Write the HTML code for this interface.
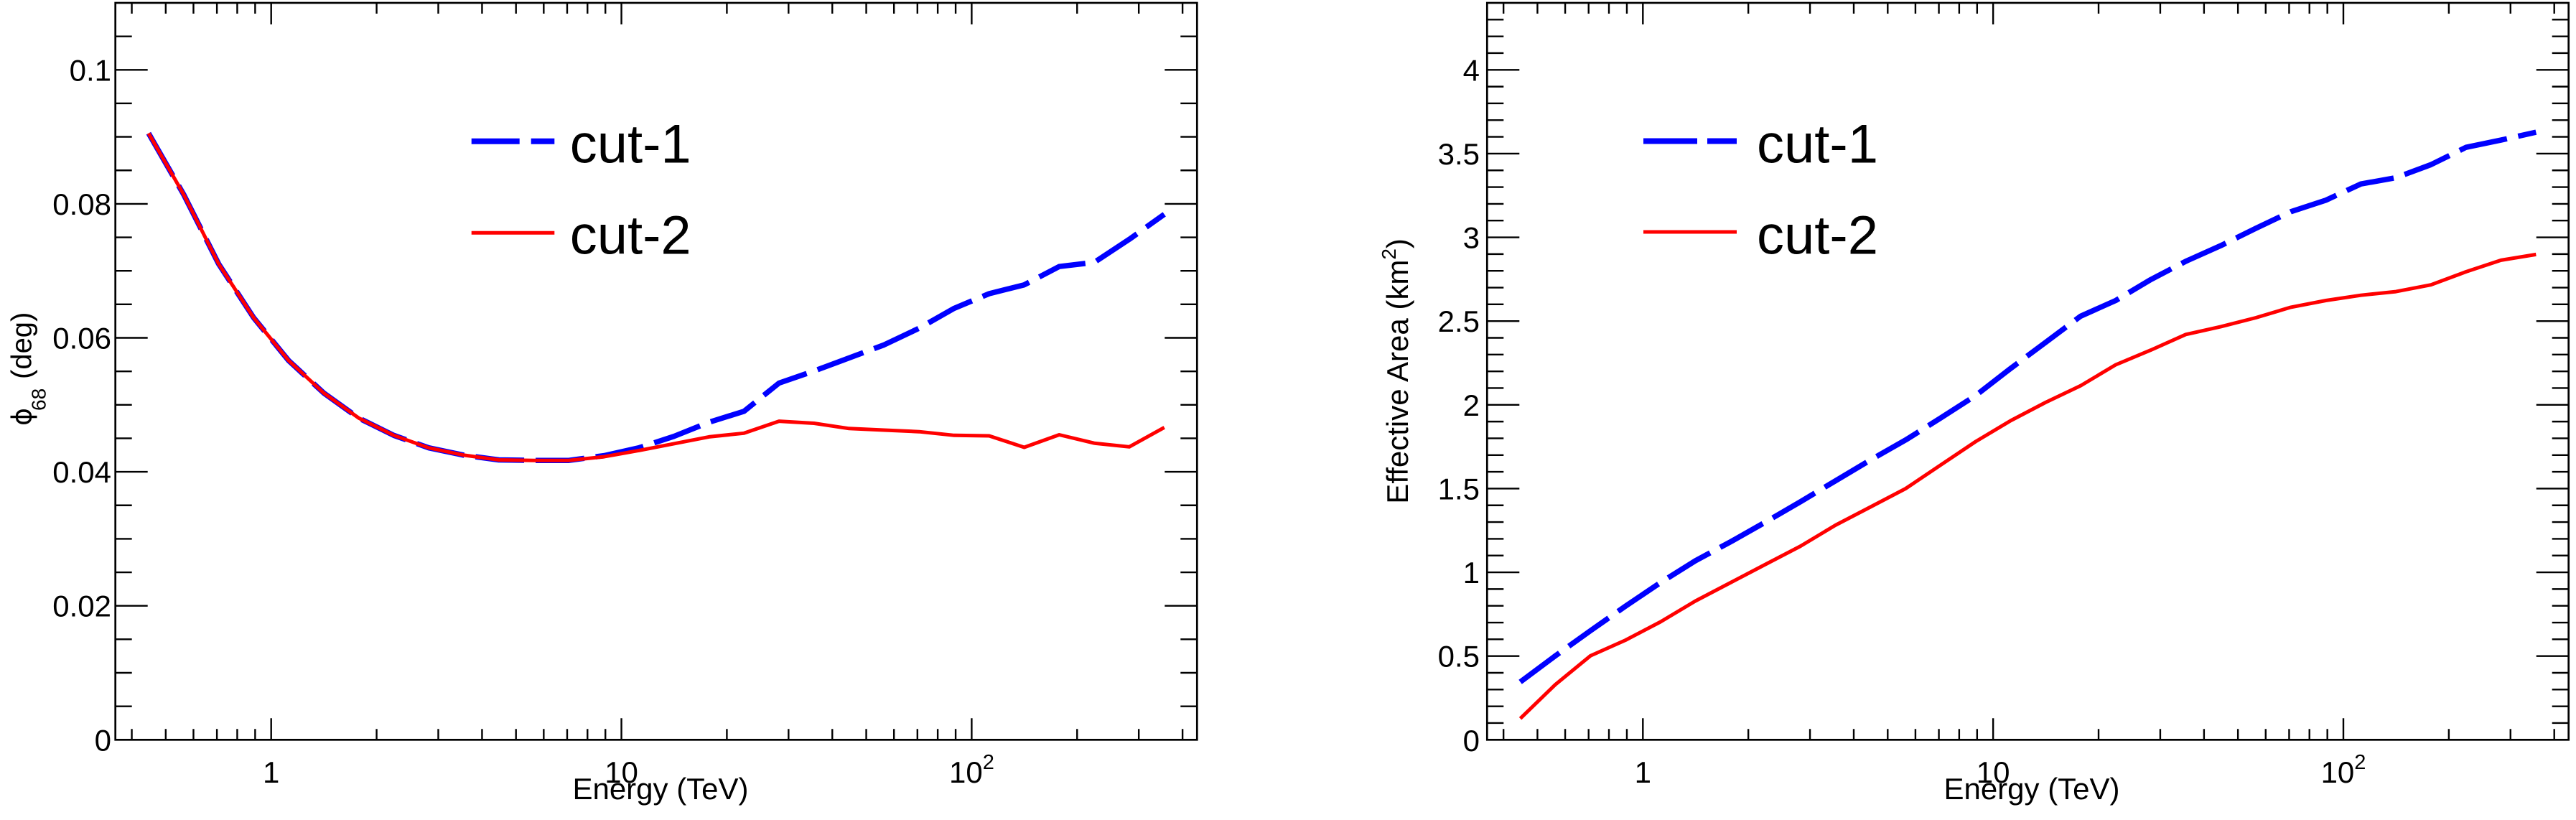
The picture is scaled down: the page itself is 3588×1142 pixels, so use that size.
<!DOCTYPE html>
<html>
<head>
<meta charset="utf-8">
<style>
html,body{margin:0;padding:0;background:#fff;}
svg{display:block;}
text{font-family:"Liberation Sans",Arial,Helvetica,sans-serif;fill:#000;}
</style>
</head>
<body>
<svg width="3588" height="1142" viewBox="0 0 3588 1142" xmlns="http://www.w3.org/2000/svg">
<rect x="0" y="0" width="3588" height="1142" fill="#fff"/>
<defs>
<path id="xb" fill="none" stroke="#000" stroke-width="2.4" d="M183.56 1030.3v-15M230.84 1030.3v-15M269.47 1030.3v-15M302.13 1030.3v-15M330.42 1030.3v-15M355.38 1030.3v-15M377.7 1030.3v-30M524.56 1030.3v-15M610.47 1030.3v-15M671.42 1030.3v-15M718.7 1030.3v-15M757.33 1030.3v-15M789.98 1030.3v-15M818.27 1030.3v-15M843.22 1030.3v-15M865.55 1030.3v-30M1012.41 1030.3v-15M1098.32 1030.3v-15M1159.27 1030.3v-15M1206.55 1030.3v-15M1245.18 1030.3v-15M1277.83 1030.3v-15M1306.12 1030.3v-15M1331.07 1030.3v-15M1353.4 1030.3v-30M1500.26 1030.3v-15M1586.17 1030.3v-15M1647.12 1030.3v-15"/>
<path id="yl" fill="none" stroke="#000" stroke-width="2.4" d="M160.7 983.65h23M160.7 937h23M160.7 890.35h23M160.7 843.7h45M160.7 797.05h23M160.7 750.4h23M160.7 703.75h23M160.7 657.1h45M160.7 610.45h23M160.7 563.8h23M160.7 517.15h23M160.7 470.5h45M160.7 423.85h23M160.7 377.2h23M160.7 330.55h23M160.7 283.9h45M160.7 237.25h23M160.7 190.6h23M160.7 143.95h23M160.7 97.3h45M160.7 50.65h23"/>
<path id="yr" fill="none" stroke="#000" stroke-width="2.4" d="M2071.3 1006.98h23M2071.3 983.65h23M2071.3 960.33h23M2071.3 937h23M2071.3 913.68h45M2071.3 890.35h23M2071.3 867.03h23M2071.3 843.7h23M2071.3 820.38h23M2071.3 797.05h45M2071.3 773.73h23M2071.3 750.4h23M2071.3 727.08h23M2071.3 703.75h23M2071.3 680.43h45M2071.3 657.1h23M2071.3 633.78h23M2071.3 610.45h23M2071.3 587.13h23M2071.3 563.8h45M2071.3 540.48h23M2071.3 517.15h23M2071.3 493.83h23M2071.3 470.5h23M2071.3 447.18h45M2071.3 423.85h23M2071.3 400.53h23M2071.3 377.2h23M2071.3 353.88h23M2071.3 330.55h45M2071.3 307.23h23M2071.3 283.9h23M2071.3 260.58h23M2071.3 237.25h23M2071.3 213.93h45M2071.3 190.6h23M2071.3 167.28h23M2071.3 143.95h23M2071.3 120.63h23M2071.3 97.3h45M2071.3 73.98h23M2071.3 50.65h23M2071.3 27.33h23"/>
</defs>

<!-- ================= LEFT PANEL ================= -->
<!-- data -->
<polyline fill="none" stroke="#0000ff" stroke-width="7.5" stroke-dasharray="68 16" stroke-linejoin="round"
 points="206.95,185.6 255.74,270.7 304.52,367.5 353.31,442.5 402.09,502.2 450.88,547.3 499.66,582.2 548.45,606.3 597.23,623.7 646.02,633.9 694.80,640.5 743.59,641.2 792.37,641.2 841.16,634.6 889.94,623.7 938.73,607.7 987.51,588.1 1036.30,572.8 1085.08,533.5 1133.87,516.7 1182.65,498.5 1231.44,480.3 1280.22,457.1 1329.01,429.4 1377.79,409.0 1426.58,396.7 1475.36,371.2 1524.15,365.4 1572.93,333.3 1621.72,298.4"/>
<polyline fill="none" stroke="#ff0000" stroke-width="5" stroke-linejoin="round"
 points="206.95,185.6 255.74,270.7 304.52,367.5 353.31,442.5 402.09,502.2 450.88,547.3 499.66,582.2 548.45,606.3 597.23,623.7 646.02,633.9 694.80,640.5 743.59,641.2 792.37,641.2 841.16,636.1 889.94,627.4 938.73,617.9 987.51,608.4 1036.30,603.3 1085.08,586.6 1133.87,589.5 1182.65,596.8 1231.44,599.0 1280.22,601.2 1329.01,606.3 1377.79,607.0 1426.58,623.0 1475.36,605.5 1524.15,617.2 1572.93,622.3 1621.72,595.3"/>

<!-- frame & ticks -->
<rect x="160.7" y="4" width="1506.6" height="1026.3" fill="none" stroke="#000" stroke-width="2.7"/>
<use href="#xb"/>
<use href="#xb" transform="matrix(1 0 0 -1 0 1034.3)"/>
<use href="#yl"/>
<use href="#yl" transform="matrix(-1 0 0 1 1828 0)"/>

<!-- y labels -->
<g font-size="42" text-anchor="end">
<text x="155" y="1045.3">0</text>
<text x="155" y="858.7">0.02</text>
<text x="155" y="672.1">0.04</text>
<text x="155" y="485.5">0.06</text>
<text x="155" y="298.9">0.08</text>
<text x="155" y="112.3">0.1</text>
</g>
<!-- x labels -->
<g font-size="42" text-anchor="middle">
<text x="377.7" y="1090">1</text>
<text x="865.55" y="1090">10</text>
<text x="1353.4" y="1090">10<tspan font-size="29" dy="-19">2</tspan></text>
</g>
<text x="920" y="1113" font-size="42" text-anchor="middle">Energy (TeV)</text>
<!-- y title -->
<g transform="translate(43.3,593) rotate(-90)">
<text x="0" y="0" font-size="38"><tspan style="font-family:'DejaVu Sans',sans-serif">ϕ</tspan></text>
<text x="21" y="20" font-size="28">68</text>
<text x="65" y="0" font-size="40">(deg)</text>
</g>
<!-- legend -->
<line x1="656.7" y1="196.7" x2="772.3" y2="196.7" stroke="#0000ff" stroke-width="8" stroke-dasharray="67 16"/>
<line x1="656.7" y1="324.3" x2="772.3" y2="324.3" stroke="#ff0000" stroke-width="5"/>
<text x="793.7" y="226.7" font-size="76">cut-1</text>
<text x="793.7" y="353.3" font-size="76">cut-2</text>

<!-- ================= RIGHT PANEL ================= -->
<polyline fill="none" stroke="#0000ff" stroke-width="7.5" stroke-dasharray="68 16" stroke-linejoin="round"
 points="2117.55,949.8 2166.34,913.4 2215.12,878.5 2263.91,844.3 2312.69,811.5 2361.48,780.9 2410.26,754.7 2459.05,727.1 2507.83,698.7 2556.62,669.6 2605.40,640.5 2654.19,612.8 2702.97,582.2 2751.76,550.9 2800.54,513.1 2849.33,476.7 2898.11,440.3 2946.90,418.5 2995.68,389.4 3044.47,363.9 3093.25,342.1 3142.04,318.0 3190.82,294.8 3239.61,278.8 3288.39,256.2 3337.18,247.5 3385.96,229.3 3434.75,205.2 3483.53,195.1 3532.32,184.1"/>
<polyline fill="none" stroke="#ff0000" stroke-width="5" stroke-linejoin="round"
 points="2117.55,1000.7 2166.34,953.4 2215.12,913.4 2263.91,891.6 2312.69,866.1 2361.48,837.0 2410.26,811.5 2459.05,786.0 2507.83,760.6 2556.62,731.4 2605.40,706.0 2654.19,680.5 2702.97,647.7 2751.76,615.0 2800.54,585.9 2849.33,560.4 2898.11,537.1 2946.90,508.0 2995.68,487.6 3044.47,465.8 3093.25,454.9 3142.04,442.5 3190.82,427.9 3239.61,418.5 3288.39,411.2 3337.18,406.1 3385.96,396.7 3434.75,378.5 3483.53,362.4 3532.32,354.4"/>

<rect x="2071.3" y="4" width="1506.4" height="1026.3" fill="none" stroke="#000" stroke-width="2.7"/>
<use href="#xb" transform="translate(1910.6,0)"/>
<use href="#xb" transform="translate(1910.6,0) matrix(1 0 0 -1 0 1034.3)"/>
<use href="#yr"/>
<use href="#yr" transform="matrix(-1 0 0 1 5649 0)"/>

<g font-size="42" text-anchor="end">
<text x="2061" y="1046">0</text>
<text x="2061" y="928.7">0.5</text>
<text x="2061" y="812">1</text>
<text x="2061" y="695.4">1.5</text>
<text x="2061" y="578.8">2</text>
<text x="2061" y="462.2">2.5</text>
<text x="2061" y="345.5">3</text>
<text x="2061" y="228.9">3.5</text>
<text x="2061" y="112.3">4</text>
</g>
<g font-size="42" text-anchor="middle">
<text x="2288.3" y="1090">1</text>
<text x="2776.15" y="1090">10</text>
<text x="3264" y="1090">10<tspan font-size="29" dy="-19">2</tspan></text>
</g>
<text x="2830" y="1113" font-size="42" text-anchor="middle">Energy (TeV)</text>
<text transform="translate(1961,701.7) rotate(-90)" font-size="42">Effective Area (km<tspan font-size="28" dy="-17">2</tspan><tspan dy="17">)</tspan></text>

<line x1="2289" y1="196.5" x2="2419" y2="196.5" stroke="#0000ff" stroke-width="8" stroke-dasharray="75 14"/>
<line x1="2289" y1="323" x2="2419" y2="323" stroke="#ff0000" stroke-width="5"/>
<text x="2447" y="226.7" font-size="76">cut-1</text>
<text x="2447" y="353.3" font-size="76">cut-2</text>
</svg>
</body>
</html>
